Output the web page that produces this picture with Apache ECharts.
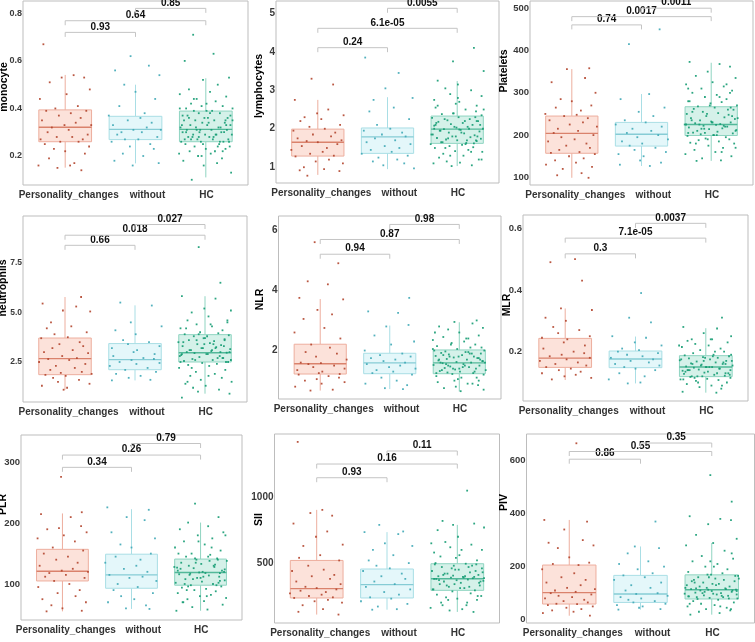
<!DOCTYPE html>
<html>
<head>
<meta charset="utf-8">
<script src="https://cdn.jsdelivr.net/npm/echarts@6/dist/echarts.min.js"></script>
<style>
html, body { margin: 0; padding: 0; background: #fff; }
#main { width: 755px; height: 642px; }
</style>
</head>
<body>
<div id="main"></div>
<script>
var categories = ['Personality_changes', 'without', 'HC'];
// where the category names sit along the x scale (the reference nudges them right)
var categoryLabelPos = [1.05, 2.17, 3.01];

// fixed horizontal jitter pattern (category units)
var jitter = [-0.31,0.12,0.27,-0.05,-0.22,0.35,0.02,-0.36,0.18,-0.14,0.30,-0.27,0.08,-0.09,0.22,-0.33,0.15,-0.01,0.37,-0.19,
  0.05,-0.25,0.32,-0.12,0.10,-0.35,0.25,-0.07,0.19,-0.29,0.34,-0.16,0.00,0.28,-0.23,0.13,-0.38,0.07,-0.11,0.23,
  -0.32,0.16,-0.03,0.36,-0.20,0.09,-0.26,0.31,-0.15,0.04,-0.34,0.21,-0.08,0.26,-0.18,0.11,-0.30,0.33,-0.04,0.17,
  -0.24,0.06,-0.37,0.29,-0.13,0.14,-0.21,0.24,-0.06,0.38,-0.28,0.01,-0.17,0.20,-0.10,0.35,-0.33,0.03,-0.02,0.28];

// box stats: [lower whisker, q1, median, q3, upper whisker] for PC, without, HC
var monocyteBox = [[0.151,0.26,0.321,0.394,0.541],[0.169,0.269,0.312,0.367,0.50],[0.11,0.26,0.312,0.389,0.527]];
var monocytePC = [0.67,0.54,0.53,0.53,0.51,0.48,0.46,0.44,0.41,0.40,0.39,0.39,0.38,0.37,0.36,0.35,0.34,0.33,0.33,0.32,0.31,0.30,0.29,0.28,0.28,0.27,0.27,0.26,0.26,0.25,0.24,0.23,0.22,0.21,0.19,0.17,0.16,0.16,0.15,0.14];
var monocyteWithout = [0.62,0.58,0.56,0.54,0.50,0.47,0.44,0.41,0.38,0.37,0.36,0.35,0.34,0.33,0.32,0.31,0.31,0.30,0.30,0.29,0.28,0.27,0.27,0.26,0.25,0.24,0.23,0.21,0.20,0.18,0.17,0.16];
var monocyteHC = [0.71,0.63,0.60,0.53,0.52,0.50,0.48,0.47,0.46,0.45,0.44,0.43,0.42,0.41,0.41,0.40,0.40,0.39,0.39,0.38,0.38,0.37,0.37,0.36,0.36,0.35,0.35,0.35,0.34,0.34,0.33,0.33,0.33,0.32,0.32,0.32,0.31,0.31,0.31,0.30,0.30,0.30,0.29,0.29,0.29,0.28,0.28,0.28,0.27,0.27,0.27,0.26,0.26,0.26,0.25,0.25,0.24,0.24,0.23,0.23,0.22,0.22,0.21,0.21,0.20,0.19,0.18,0.17,0.16,0.13,0.10,
  0.39,0.37,0.36,0.35,0.34,0.33,0.32,0.31,0.30,0.29,0.28,0.27,0.26,0.25,0.24,0.36,0.38,0.40,0.33,0.31,0.29,0.27,0.22,0.20,0.35,0.30,0.42,0.44,0.26,0.28];
var monocyteBracket = [0.72, 0.769, 0.821];
var monocyteP = ['0.93', '0.64', '0.85'];
var monocyteTicks = [0.2, 0.4, 0.6, 0.8];

var lymphBox = [[0.80,1.29,1.65,1.99,2.75],[0.95,1.36,1.79,2.02,2.82],[1.03,1.62,1.99,2.33,3.24]];
var lymphPC = [3.3,3.15,2.75,2.5,2.4,2.35,2.3,2.25,2.2,2.1,2.05,2.0,1.95,1.9,1.85,1.8,1.75,1.7,1.68,1.65,1.6,1.55,1.5,1.45,1.4,1.35,1.3,1.28,1.2,1.15,1.1,1.0,0.95,0.92,0.9,0.78];
var lymphWithout = [3.85,3.45,3.05,2.8,2.75,2.55,2.45,2.25,2.1,2.0,1.95,1.9,1.85,1.8,1.75,1.7,1.65,1.6,1.55,1.5,1.45,1.4,1.35,1.3,1.25,1.2,1.15,1.1,1.05,0.97];
var lymphHC = [4.1,3.75,3.5,3.25,3.15,3.05,3.0,2.9,2.85,2.75,2.7,2.65,2.6,2.55,2.5,2.45,2.4,2.38,2.35,2.3,2.28,2.25,2.22,2.2,2.18,2.15,2.12,2.1,2.08,2.05,2.03,2.0,1.99,1.97,1.95,1.93,1.9,1.88,1.85,1.83,1.8,1.78,1.76,1.74,1.72,1.7,1.68,1.65,1.63,1.6,1.58,1.55,1.52,1.5,1.45,1.42,1.4,1.35,1.3,1.25,1.2,1.15,1.12,1.1,1.05,1.03,
  2.3,2.25,2.2,2.15,2.1,2.05,2.0,1.95,1.9,1.85,1.8,1.75,1.7,1.65,1.62,2.4,2.5,2.6,2.8,1.5,1.4,1.3,1.2,2.0,1.98,1.8,2.2,2.1,1.6,1.7];
var lymphBracket = [4.107, 4.61, 5.13];
var lymphP = ['0.24', '6.1e-05', '0.0055'];
var lymphTicks = [1, 2, 3, 4, 5];

var plateletBox = [[99,157,204,245,356],[127,174,202,230,297],[139,199,225,267,371]];
var plateletPC = [358,356,335,325,300,285,280,270,265,258,250,248,245,240,235,230,225,220,215,210,205,200,195,190,185,180,175,170,165,160,158,155,150,145,140,135,130,125,120,110,105,99];
var plateletWithout = [450,415,297,285,265,255,245,235,230,225,220,215,210,205,200,195,190,185,180,175,170,165,160,155,150,140,135,130,127];
var plateletHC = [373,368,362,350,340,335,325,320,315,310,305,300,295,290,285,280,278,275,270,268,265,262,260,255,252,250,248,245,242,240,238,235,232,230,228,226,225,224,222,220,218,216,214,212,210,208,206,204,202,200,198,195,192,190,188,185,182,180,175,170,165,160,155,150,145,140,139,
  260,250,240,235,230,225,220,215,210,205,200,270,265,280,290,300,190,180,170,230,225,222,215,245,255,200,205,320,310,160];
var plateletBracket = [460.5, 480, 500];
var plateletP = ['0.74', '0.0017', '0.0011'];
var plateletTicks = [100, 200, 300, 400, 500];

var neutroBox = [[1.10,1.86,2.67,3.71,5.78],[1.57,2.11,2.62,3.43,5.36],[0.90,2.5,2.97,3.88,5.82]];
var neutroPC = [5.78,5.45,5.3,5.1,5.05,4.5,4.3,4.2,4.0,3.9,3.75,3.7,3.5,3.4,3.3,3.2,3.1,3.0,2.95,2.8,2.7,2.65,2.6,2.5,2.4,2.3,2.2,2.1,2.0,1.95,1.9,1.85,1.8,1.7,1.6,1.5,1.4,1.3,1.2,1.1];
var neutroWithout = [5.5,5.35,4.5,4.3,4.1,3.9,3.6,3.5,3.4,3.3,3.2,3.1,3.0,2.9,2.8,2.7,2.65,2.6,2.5,2.45,2.4,2.3,2.2,2.1,2.0,1.9,1.8,1.7,1.6,1.57];
var neutroHC = [8.3,6.5,5.82,5.7,5.2,5.1,5.0,4.8,4.6,4.5,4.4,4.3,4.2,4.1,4.0,3.95,3.9,3.85,3.8,3.7,3.65,3.6,3.55,3.5,3.45,3.4,3.35,3.3,3.25,3.2,3.15,3.1,3.05,3.0,2.97,2.95,2.9,2.85,2.8,2.75,2.7,2.65,2.6,2.55,2.5,2.45,2.4,2.35,2.3,2.2,2.1,2.0,1.9,1.8,1.7,1.6,1.5,1.4,1.3,1.2,1.1,1.0,0.9,0.7,
  3.8,3.7,3.6,3.5,3.4,3.3,3.2,3.1,3.0,2.9,2.8,2.7,2.6,2.5,4.2,4.4,3.9,3.0,2.9,3.2,3.4,2.6,2.2,1.8,1.5,4.6,3.6,3.1,2.5,2.7];
var neutroBracket = [8.39, 8.9, 9.44];
var neutroP = ['0.66', '0.018', '0.027'];
var neutroTicks = [2.5, 5.0, 7.5];

var nlrBox = [[0.67,1.22,1.56,2.21,3.71],[0.72,1.23,1.59,1.91,2.83],[0.64,1.23,1.59,2.02,2.94]];
var nlrPC = [5.6,4.9,4.3,4.2,3.75,3.7,3.35,3.2,3.05,2.75,2.6,2.4,2.2,2.1,1.95,1.9,1.8,1.7,1.6,1.58,1.55,1.5,1.45,1.4,1.35,1.3,1.25,1.22,1.2,1.15,1.1,1.05,1.0,0.95,0.9,0.8,0.7,0.67];
var nlrWithout = [3.75,3.3,3.25,2.85,2.8,2.5,2.3,2.2,2.0,1.9,1.85,1.8,1.75,1.7,1.65,1.6,1.55,1.5,1.45,1.4,1.35,1.3,1.25,1.2,1.1,1.0,0.9,0.85,0.75,0.72];
var nlrHC = [3.0,2.95,2.9,2.8,2.75,2.7,2.6,2.5,2.45,2.4,2.35,2.3,2.25,2.2,2.15,2.1,2.05,2.0,1.97,1.95,1.92,1.9,1.87,1.85,1.82,1.8,1.77,1.75,1.72,1.7,1.67,1.65,1.62,1.6,1.58,1.55,1.52,1.5,1.47,1.45,1.42,1.4,1.37,1.35,1.32,1.3,1.27,1.25,1.22,1.2,1.15,1.1,1.05,1.0,0.95,0.9,0.85,0.8,0.75,0.7,0.65,
  2.0,1.9,1.8,1.7,1.6,1.5,1.4,1.3,1.25,1.9,1.8,1.6,1.55,1.45,1.35,2.1,2.2,2.4,2.6,1.1,1.0,0.9,1.7,1.65,1.5,1.4,1.75,1.85,1.95,2.05];
var nlrBracket = [5.2, 5.69, 6.19];
var nlrP = ['0.94', '0.87', '0.98'];
var nlrTicks = [2, 4, 6];

var mlrBox = [[0.108,0.149,0.179,0.243,0.34],[0.097,0.148,0.176,0.202,0.249],[0.067,0.119,0.15,0.187,0.276]];
var mlrPC = [0.50,0.49,0.43,0.34,0.335,0.31,0.30,0.28,0.27,0.26,0.25,0.245,0.24,0.23,0.22,0.21,0.20,0.195,0.19,0.185,0.18,0.175,0.17,0.165,0.16,0.155,0.15,0.145,0.14,0.135,0.13,0.125,0.12,0.115,0.11];
var mlrWithout = [0.39,0.31,0.295,0.25,0.245,0.23,0.22,0.21,0.205,0.2,0.195,0.19,0.185,0.18,0.175,0.17,0.165,0.16,0.155,0.15,0.145,0.14,0.13,0.12,0.11,0.10,0.097];
var mlrHC = [0.31,0.28,0.275,0.26,0.25,0.24,0.24,0.235,0.23,0.225,0.22,0.215,0.21,0.205,0.2,0.195,0.19,0.188,0.185,0.182,0.18,0.178,0.175,0.172,0.17,0.168,0.165,0.162,0.16,0.158,0.155,0.152,0.15,0.148,0.145,0.142,0.14,0.138,0.135,0.132,0.13,0.128,0.125,0.122,0.12,0.118,0.115,0.112,0.11,0.108,0.105,0.1,0.095,0.09,0.085,0.08,0.07,0.067,
  0.18,0.17,0.16,0.15,0.14,0.13,0.12,0.185,0.175,0.165,0.155,0.145,0.135,0.125,0.115,0.15,0.16,0.14,0.2,0.22,0.24,0.1,0.09,0.11,0.13,0.17,0.19,0.12,0.15,0.14];
var mlrBracket = [0.517, 0.568, 0.616];
var mlrP = ['0.3', '7.1e-05', '0.0037'];
var mlrTicks = [0.2, 0.4, 0.6];

var plrBox = [[55,105,121,157,216],[59,93,115,149,223],[56,98,119,141,201]];
var plrPC = [276,218,215,210,195,192,190,185,180,175,170,160,155,150,145,140,135,130,125,122,120,118,115,112,110,105,100,95,90,85,80,75,70,65,60,56,55];
var plrWithout = [226,222,210,205,185,175,165,160,150,145,140,135,130,125,120,115,112,110,105,100,95,90,85,80,75,70,65,60,59];
var plrHC = [232,210,201,195,190,185,180,175,170,165,160,155,150,148,145,142,140,138,135,133,130,128,126,124,122,120,119,118,116,114,112,110,108,106,104,102,100,98,96,94,92,90,88,85,82,80,77,75,72,70,66,62,58,56,
  140,135,130,125,120,115,110,105,100,138,128,118,108,98,150,160,170,180,90,80,70,122,117,112,127,132,142,102,96,145];
var plrBracket = [291.8, 312, 331];
var plrP = ['0.34', '0.26', '0.79'];
var plrTicks = [100, 200, 300];

var siiBox = [[109,235,306,520,904],[146,235,336,455,735],[129,293,381,495,790]];
var siiPC = [1420,904,880,860,800,740,700,640,630,560,540,520,480,450,440,410,400,380,360,340,320,310,300,290,280,270,260,250,240,235,220,210,200,180,150,130,109];
var siiWithout = [790,740,735,720,650,630,600,560,520,500,480,460,440,420,400,380,360,340,320,300,280,260,240,230,210,190,170,150,146];
var siiHC = [1050,820,800,790,770,750,700,660,640,620,600,580,560,540,520,500,495,490,480,470,460,450,440,430,420,410,400,395,390,385,380,375,370,365,360,350,340,330,320,310,300,293,285,270,260,250,240,230,220,200,180,160,150,140,129,
  490,470,450,430,410,390,370,350,330,310,300,480,460,440,420,400,380,360,340,320,550,600,650,250,220,200,180,395,405,385];
var siiBracket = [1148, 1252, 1351];
var siiP = ['0.93', '0.16', '0.11'];
var siiTicks = [500, 1000];

var pivBox = [[15,59,102,206,376],[38,65,97,167,276],[19,78,113,169,289]];
var pivPC = [665,376,370,340,300,290,280,270,235,215,210,206,190,175,160,150,140,130,120,115,110,105,100,95,90,85,80,75,70,65,60,59,55,50,45,40,35,30,25,15];
var pivWithout = [370,276,270,250,220,210,200,190,175,167,160,150,140,130,120,110,100,97,90,85,80,75,70,65,60,55,50,45,40,38];
var pivHC = [545,445,390,380,375,360,320,305,289,280,260,240,230,220,210,200,190,180,175,170,165,160,155,150,145,140,135,130,125,120,118,115,113,110,108,105,102,100,98,95,92,90,88,85,82,80,78,75,70,65,60,55,50,45,40,35,30,25,19,
  165,160,150,140,130,120,110,100,90,85,80,170,155,145,135,125,115,105,95,88,200,220,250,60,50,40,113,118,108,98];
var pivBracket = [605, 634, 666];
var pivP = ['0.86', '0.55', '0.35'];
var pivTicks = [0, 200, 400, 600];

// bracket group pairs: PC-without, PC-HC, without-HC
var bracketPairs = [[1, 2], [1, 3], [2, 3]];

// lift = how far the y title sits above the panel's middle (px); ys = y tick label size
var panels = [
  {title: 'monocyte', box: monocyteBox, pts: [monocytePC, monocyteWithout, monocyteHC], brk: monocyteBracket, p: monocyteP, ticks: monocyteTicks, dec: 1, min: 0.078, max: 0.852, left: 23, top: 1, w: 225, h: 184, gap: 13, lift: 6, ys: 9},
  {title: 'lymphocytes', box: lymphBox, pts: [lymphPC, lymphWithout, lymphHC], brk: lymphBracket, p: lymphP, ticks: lymphTicks, dec: 0, min: 0.59, max: 5.32, left: 276, top: 1, w: 223, h: 182, gap: 11, lift: 6, ys: 10},
  {title: 'Platelets', box: plateletBox, pts: [plateletPC, plateletWithout, plateletHC], brk: plateletBracket, p: plateletP, ticks: plateletTicks, dec: 0, min: 82, max: 517, left: 530, top: 1, w: 223, h: 184, gap: 20, lift: 22, ys: 9.5},
  {title: 'neutrophils', box: neutroBox, pts: [neutroPC, neutroWithout, neutroHC], brk: neutroBracket, p: neutroP, ticks: neutroTicks, dec: 1, min: 0.48, max: 9.87, left: 23, top: 216, w: 224, h: 186, gap: 14, lift: 21, ys: 8.5},
  {title: 'NLR', box: nlrBox, pts: [nlrPC, nlrWithout, nlrHC], brk: nlrBracket, p: nlrP, ticks: nlrTicks, dec: 0, min: 0.39, max: 6.47, left: 278.5, top: 216, w: 222.5, h: 183, gap: 12.5, lift: 8, ys: 10},
  {title: 'MLR', box: mlrBox, pts: [mlrPC, mlrWithout, mlrHC], brk: mlrBracket, p: mlrP, ticks: mlrTicks, dec: 1, min: 0.04, max: 0.643, left: 523, top: 215, w: 225, h: 186, gap: 10, lift: 3, ys: 9.5},
  {title: 'PLR', box: plrBox, pts: [plrPC, plrWithout, plrHC], brk: plrBracket, p: plrP, ticks: plrTicks, dec: 0, min: 40.8, max: 345, left: 21, top: 435, w: 221, h: 185, gap: 12, lift: 23, ys: 9.5},
  {title: 'SII', box: siiBox, pts: [siiPC, siiWithout, siiHC], brk: siiBracket, p: siiP, ticks: siiTicks, dec: 0, min: 45, max: 1480, left: 274.5, top: 434, w: 225, h: 189, gap: 9.5, lift: 9, ys: 10},
  {title: 'PIV', box: pivBox, pts: [pivPC, pivWithout, pivHC], brk: pivBracket, p: pivP, ticks: pivTicks, dec: 0, min: -12.5, max: 700, left: 526.5, top: 434, w: 228, h: 189, gap: 16.5, lift: 26, ys: 9.5}
];

var groupStyle = [
  {fill: '#FCE2DA', line: '#EDAE9E', median: '#DA826C', point: '#B3452E'},
  {fill: '#E4F7FA', line: '#A9DEE5', median: '#86CCD5', point: '#3FA8B6'},
  {fill: '#D5F1E9', line: '#8FD4C1', median: '#52B899', point: '#159C73'}
];
var FONT = '"Liberation Sans", Arial, sans-serif';

function renderBox(params, api) {
  var x = api.value(0);
  var st = groupStyle[params.dataIndex];
  var lw = api.coord([x, api.value(1)]);
  var q1 = api.coord([x, api.value(2)]);
  var md = api.coord([x, api.value(3)]);
  var q3 = api.coord([x, api.value(4)]);
  var uw = api.coord([x, api.value(5)]);
  var xl = api.coord([x - 0.375, api.value(3)])[0];
  var xr = api.coord([x + 0.375, api.value(3)])[0];
  return {
    type: 'group',
    children: [
      {type: 'line', shape: {x1: lw[0], y1: lw[1], x2: q1[0], y2: q1[1]}, style: {stroke: st.line, lineWidth: 1}},
      {type: 'line', shape: {x1: q3[0], y1: q3[1], x2: uw[0], y2: uw[1]}, style: {stroke: st.line, lineWidth: 1}},
      {type: 'rect', shape: {x: xl, y: q3[1], width: xr - xl, height: q1[1] - q3[1]}, style: {fill: st.fill, stroke: st.line, lineWidth: 1}},
      {type: 'line', shape: {x1: xl, y1: md[1], x2: xr, y2: md[1]}, style: {stroke: st.median, lineWidth: 1.4}}
    ]
  };
}

function makeBracketRenderer(labels) {
  return function (params, api) {
    var a = api.coord([api.value(0), api.value(2)]);
    var b = api.coord([api.value(1), api.value(2)]);
    var tip = 4.5;
    return {
      type: 'group',
      children: [
        {type: 'polyline', shape: {points: [[a[0], a[1] + tip], [a[0], a[1]], [b[0], b[1]], [b[0], b[1] + tip]]},
          style: {stroke: '#C4C4C4', lineWidth: 1, fill: null}},
        {type: 'text', x: (a[0] + b[0]) / 2, y: a[1] - 5.5,
          style: {text: labels[params.dataIndex], fill: '#111', font: 'bold 10px ' + FONT, align: 'center', verticalAlign: 'middle'}}
      ]
    };
  };
}

var grids = [], xAxes = [], yAxes = [], series = [];

panels.forEach(function (pn, k) {
  grids.push({left: pn.left, top: pn.top, width: pn.w, height: pn.h, show: true,
    outerBoundsMode: 'none', containLabel: false,
    borderColor: '#BDBDBD', borderWidth: 1, backgroundColor: 'transparent'});
  xAxes.push({
    type: 'value', gridIndex: k, min: 0.4, max: 3.6,
    axisLine: {show: false}, axisTick: {show: false}, splitLine: {show: false},
    axisLabel: {
      customValues: categoryLabelPos, margin: 5, showMinLabel: true, showMaxLabel: true, hideOverlap: false,
      color: '#333', fontWeight: 'bold', fontSize: 10, fontFamily: FONT,
      formatter: function (v) { return categories[Math.round(v) - 1]; }
    }
  });
  yAxes.push({
    type: 'value', gridIndex: k, min: pn.min, max: pn.max,
    name: pn.title, nameLocation: 'middle', nameGap: pn.gap, nameMoveOverlap: false,
    nameTextStyle: {color: '#000', fontWeight: 'bold', fontSize: 10.5, fontFamily: FONT,
      padding: [0, 0, 0, pn.lift * 2]},
    axisLine: {show: false}, axisTick: {show: false}, splitLine: {show: false},
    axisLabel: {
      customValues: pn.ticks, margin: 1, showMinLabel: true, showMaxLabel: true,
      color: '#3a3a3a', fontWeight: 'bold', fontSize: pn.ys, fontFamily: FONT,
      formatter: (function (d) { return function (v) { return v.toFixed(d); }; })(pn.dec)
    }
  });

  series.push({
    type: 'custom', xAxisIndex: k, yAxisIndex: k, z: 2, silent: true, clip: false,
    renderItem: renderBox,
    data: pn.box.map(function (b, g) { return [g + 1].concat(b); })
  });

  pn.pts.forEach(function (vals, g) {
    series.push({
      type: 'scatter', xAxisIndex: k, yAxisIndex: k, z: 3, silent: true,
      symbol: 'rect', symbolSize: 1.8,
      itemStyle: {color: groupStyle[g].point, opacity: 0.9},
      data: vals.map(function (v, i) {
        return [g + 1 + jitter[(i + g * 27 + k * 13) % jitter.length], v];
      })
    });
  });

  series.push({
    type: 'custom', xAxisIndex: k, yAxisIndex: k, z: 4, silent: true, clip: false,
    renderItem: makeBracketRenderer(pn.p),
    data: bracketPairs.map(function (pr, j) { return [pr[0], pr[1], pn.brk[j]]; })
  });
});

var chart = echarts.init(document.getElementById('main'));
chart.setOption({
  animation: false,
  backgroundColor: '#fff',
  grid: grids,
  xAxis: xAxes,
  yAxis: yAxes,
  series: series
});
window.onresize = chart.resize;
</script>
</body>
</html>
